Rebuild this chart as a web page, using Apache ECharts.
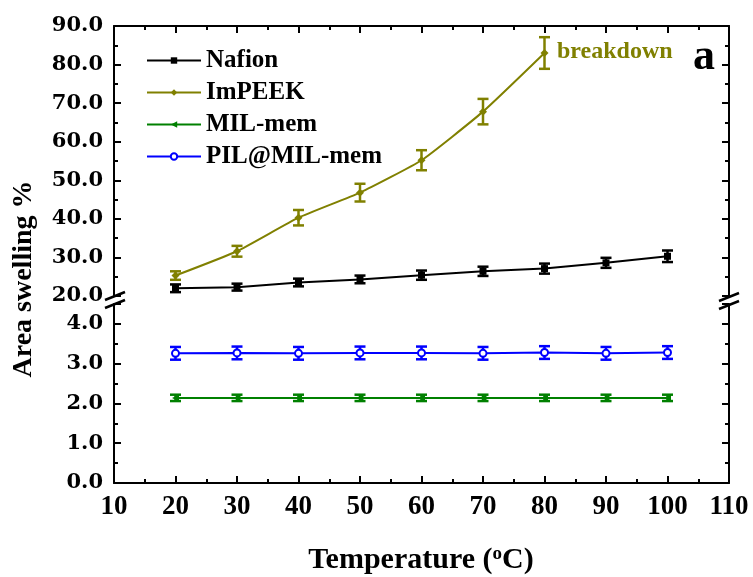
<!DOCTYPE html>
<html>
<head>
<meta charset="utf-8">
<script src="https://cdn.jsdelivr.net/npm/echarts@6/dist/echarts.min.js"></script>
<style>html,body{margin:0;padding:0;background:#fff}#c{width:753px;height:577px}</style>
</head>
<body>
<div id="c"></div>
<script>
// ---- data ----
var tempsAll = [20, 30, 40, 50, 60, 70, 80, 90, 100];
var tempsImPEEK = [20, 30, 40, 50, 60, 70, 80];
var nafion = [22.0, 22.3, 23.5, 24.3, 25.4, 26.4, 27.1, 28.6, 30.3];
var nafionErr = [1.0, 0.9, 1.0, 1.0, 1.2, 1.2, 1.3, 1.3, 1.5];
var impeek = [25.3, 31.6, 40.3, 46.8, 55.2, 67.8, 83.0];
var impeekErr = [1.1, 1.4, 2.0, 2.3, 2.6, 3.3, 4.1];
var milMem = [2.14, 2.14, 2.14, 2.14, 2.14, 2.14, 2.14, 2.14, 2.14];
var milMemErr = [0.08, 0.08, 0.08, 0.08, 0.08, 0.08, 0.08, 0.08, 0.08];
var pilMilMem = [3.26, 3.27, 3.26, 3.27, 3.27, 3.26, 3.28, 3.26, 3.28];
var pilMilMemErr = [0.16, 0.16, 0.16, 0.16, 0.16, 0.16, 0.16, 0.16, 0.16];
var seriesNames = ['Nafion', 'ImPEEK', 'MIL-mem', 'PIL@MIL-mem'];
var seriesColors = ['#000000', '#808000', '#008000', '#0000ff'];

var SERIF = '"Liberation Serif", "Times New Roman", serif';
var chart = echarts.init(document.getElementById('c'));

function pairs(xs, ys) { return xs.map(function (x, i) { return [x, ys[i]]; }); }
function triples(xs, ys, es) { return xs.map(function (x, i) { return [x, ys[i], es[i]]; }); }

function errSeries(xs, ys, es, color, gi) {
  return {
    type: 'custom', xAxisIndex: gi, yAxisIndex: gi * 2, z: 3, silent: true,
    data: triples(xs, ys, es),
    renderItem: function (params, api) {
      var x = api.value(0), y = api.value(1), e = api.value(2);
      var t = api.coord([x, y + e]), b = api.coord([x, y - e]);
      var w = 5.5;
      var st = { stroke: color, lineWidth: 2.5 };
      return { type: 'group', children: [
        { type: 'line', shape: { x1: t[0], y1: t[1], x2: b[0], y2: b[1] }, style: st },
        { type: 'line', shape: { x1: t[0] - w, y1: t[1], x2: t[0] + w, y2: t[1] }, style: st },
        { type: 'line', shape: { x1: b[0] - w, y1: b[1], x2: b[0] + w, y2: b[1] }, style: st }
      ]};
    }
  };
}

var tickCommon = { show: true, inside: true, length: 7, lineStyle: { color: '#000', width: 2 } };
var minorCommon = { show: true, splitNumber: 2, length: 4, lineStyle: { color: '#000', width: 2 } };
var lineCommon = { show: true, lineStyle: { color: '#000', width: 2 } };

function xAx(gi, pos, labels) {
  return {
    type: 'value', gridIndex: gi, position: pos, min: 10, max: 110, interval: 10,
    axisLine: lineCommon, axisTick: tickCommon, minorTick: minorCommon,
    splitLine: { show: false },
    axisLabel: { show: labels, margin: 11, color: '#000', fontFamily: SERIF, fontWeight: 'bold', fontSize: 27 }
  };
}
function yAx(gi, pos, min, max, labels) {
  return {
    type: 'value', gridIndex: gi, position: pos, min: min, max: max, interval: gi === 0 ? 10 : 1,
    axisLine: lineCommon, axisTick: tickCommon, minorTick: minorCommon,
    splitLine: { show: false },
    axisLabel: { show: labels, showMaxLabel: gi === 0, margin: 11, color: '#000',
      fontFamily: '"DejaVu Serif", serif', fontWeight: 'bold', fontSize: 21,
      formatter: function (v) { return v.toFixed(1); } }
  };
}

function brk(x, yTop) {
  var st = { stroke: '#000', lineWidth: 2.5 };
  return [
    { type: 'line', shape: { x1: x - 10, y1: yTop + 8, x2: x + 10, y2: yTop }, style: st, z: 100 },
    { type: 'line', shape: { x1: x - 10, y1: yTop + 16, x2: x + 10, y2: yTop + 8 }, style: st, z: 100 }
  ];
}

var option = {
  animation: false,
  grid: [
    { left: 114, right: 24, top: 26, height: 270 },
    { left: 114, right: 24, top: 304, height: 179 }
  ],
  xAxis: [xAx(0, 'top', false), xAx(1, 'bottom', true)],
  yAxis: [yAx(0, 'left', 20, 90, true), yAx(0, 'right', 20, 90, false),
          yAx(1, 'left', 0, 4.5, true), yAx(1, 'right', 0, 4.5, false)],
  legend: {
    data: seriesNames, orient: 'vertical', left: 146, top: 48, padding: 0,
    itemWidth: 54, itemHeight: 8, itemGap: 7,
    textStyle: { color: '#000', fontFamily: SERIF, fontWeight: 'bold', fontSize: 25, lineHeight: 25 }
  },
  series: [
    { name: seriesNames[0], type: 'line', xAxisIndex: 0, yAxisIndex: 0, data: pairs(tempsAll, nafion),
      symbol: 'rect', symbolSize: 7, color: seriesColors[0], lineStyle: { width: 2 }, z: 4 },
    { name: seriesNames[1], type: 'line', xAxisIndex: 0, yAxisIndex: 0, data: pairs(tempsImPEEK, impeek),
      symbol: 'diamond', symbolSize: 8, smooth: 0.15, color: seriesColors[1], lineStyle: { width: 2 }, z: 4 },
    { name: seriesNames[2], type: 'line', xAxisIndex: 1, yAxisIndex: 2, data: pairs(tempsAll, milMem),
      symbol: 'triangle', symbolRotate: 90, symbolSize: 7, color: seriesColors[2], lineStyle: { width: 2 }, z: 4 },
    { name: seriesNames[3], type: 'line', xAxisIndex: 1, yAxisIndex: 2, data: pairs(tempsAll, pilMilMem),
      symbol: 'emptyCircle', symbolSize: 7, color: seriesColors[3], itemStyle: { borderWidth: 1.5 },
      lineStyle: { width: 2 }, z: 4 },
    errSeries(tempsAll, nafion, nafionErr, seriesColors[0], 0),
    errSeries(tempsImPEEK, impeek, impeekErr, seriesColors[1], 0),
    errSeries(tempsAll, milMem, milMemErr, seriesColors[2], 1),
    errSeries(tempsAll, pilMilMem, pilMilMemErr, seriesColors[3], 1)
  ],
  graphic: [].concat(brk(115, 292), brk(729, 293), [
    { type: 'text', left: 557, top: 40, style: { text: 'breakdown', fill: '#808000', font: 'bold 24px ' + SERIF } },
    { type: 'text', x: 704, y: 58, style: { text: 'a', fill: '#000', font: 'bold 44px ' + SERIF, align: 'center', verticalAlign: 'middle' } },
    { type: 'text', x: 24, y: 279, rotation: Math.PI / 2,
      style: { text: 'Area swelling %', fill: '#000', font: 'bold 28px ' + SERIF, align: 'center', verticalAlign: 'middle' } },
    { type: 'text', x: 421, y: 560,
      style: { text: '{t|Temperature (}{s|o}{t|C)}', align: 'center', verticalAlign: 'middle',
        rich: { t: { fontFamily: SERIF, fontWeight: 'bold', fontSize: 30, fill: '#000', lineHeight: 30 },
                s: { fontFamily: SERIF, fontWeight: 'bold', fontSize: 19, fill: '#000', verticalAlign: 'top', lineHeight: 30 } } } }
  ])
};
chart.setOption(option);
</script>
</body>
</html>
